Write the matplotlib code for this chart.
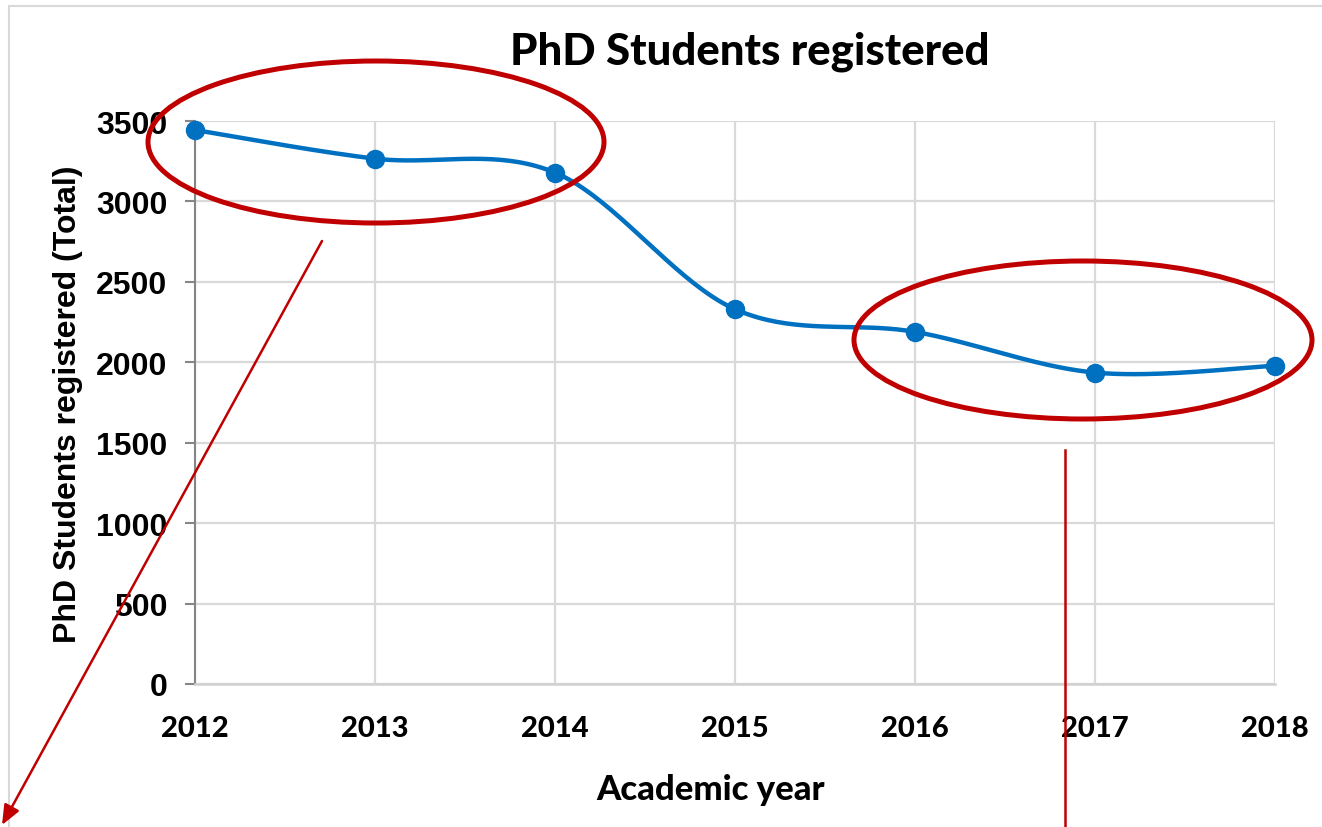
import numpy as np
import matplotlib
matplotlib.use("Agg")
import matplotlib.pyplot as plt
from matplotlib.patches import Ellipse, Rectangle, FancyArrowPatch

years = [2012, 2013, 2014, 2015, 2016, 2017, 2018]
students = [3444, 3266, 3179, 2330, 2189, 1936, 1978]
yticks = [0, 500, 1000, 1500, 2000, 2500, 3000, 3500]
title = "PhD Students registered"
xlabel = "Academic year"
ylabel = "PhD Students registered (Total)"

W, H = 1322, 828
fig = plt.figure(figsize=(W / 100, H / 100), dpi=100)

def px(x, y):
    return (x / W, 1 - y / H)

# outer chart border
fig.patches.append(Rectangle(px(9, 900), (W + 20) / W, (900 - 7) / H, transform=fig.transFigure,
                             fill=False, edgecolor="#D9D9D9", linewidth=1.5, zorder=0))

ax = fig.add_axes([195 / W, 1 - 685 / H, (1275 - 195) / W, (685 - 122) / H])

# smooth (Catmull-Rom) curve through data
x = np.array(years, dtype=float)
y = np.array(students, dtype=float)
xs_all, ys_all = [], []
n = len(x)
t = np.linspace(0, 1, 40)
for i in range(n - 1):
    p0 = np.array([x[max(i - 1, 0)], y[max(i - 1, 0)]])
    p1 = np.array([x[i], y[i]])
    p2 = np.array([x[i + 1], y[i + 1]])
    p3 = np.array([x[min(i + 2, n - 1)], y[min(i + 2, n - 1)]])
    c1 = p1 + (p2 - p0) / 6
    c2 = p2 - (p3 - p1) / 6
    pts = ((1 - t) ** 3)[:, None] * p1 + (3 * (1 - t) ** 2 * t)[:, None] * c1 \
        + (3 * (1 - t) * t ** 2)[:, None] * c2 + (t ** 3)[:, None] * p2
    xs_all.append(pts[:, 0]); ys_all.append(pts[:, 1])
ax.plot(np.concatenate(xs_all), np.concatenate(ys_all), color="#0070C0", linewidth=3.2,
        solid_capstyle="round", clip_on=False, zorder=3)
ax.plot(x, y, linestyle="none", marker="o", markersize=13, color="#0070C0",
        clip_on=False, zorder=4)

ax.set_xlim(2012, 2018)
ax.set_ylim(0, 3500)
ax.set_xticks(years)
ax.set_yticks(yticks)
ax.grid(True, color="#D9D9D9", linewidth=1.6)
ax.set_axisbelow(True)
for s in ["top", "right"]:
    ax.spines[s].set_visible(False)
ax.spines["left"].set_color("#868686")
ax.spines["left"].set_linewidth(1.5)
ax.spines["bottom"].set_color("#D0D0D0")
ax.spines["bottom"].set_linewidth(1.8)

ax.tick_params(axis="y", length=7, width=1.5, color="#868686", pad=13)
ax.tick_params(axis="x", length=0, pad=22)
for lab in ax.get_yticklabels():
    lab.set_fontfamily(["Liberation Sans", "DejaVu Sans"])
    lab.set_fontweight("bold")
    lab.set_fontsize(23)
for lab in ax.get_xticklabels():
    lab.set_fontfamily(["Lato", "DejaVu Sans"])
    lab.set_fontweight(900)
    lab.set_fontsize(21)

fig.text(750 / W, 1 - 52 / H, title, ha="center", va="center", fontsize=31.5,
         fontweight=900, family=["Lato", "DejaVu Sans"])
fig.text(711 / W, 1 - 790 / H, xlabel, ha="center", va="center", fontsize=25,
         fontweight=900, family=["Lato", "DejaVu Sans"])
fig.text(68 / W, 1 - 404 / H, ylabel, ha="center", va="center", rotation=90, fontsize=23,
         fontweight="bold", family=["Liberation Sans", "DejaVu Sans"])

red = "#C00000"
for cx, cy, ew, eh in [(376, 143, 456, 162), (1083, 341, 458, 158)]:
    fig.patches.append(Ellipse(px(cx, cy), ew / W, eh / H, transform=fig.transFigure,
                               fill=False, edgecolor=red, linewidth=3.6, zorder=5))

fig.patches.append(FancyArrowPatch(px(322, 242), px(2, 826), transform=fig.transFigure,
                                   arrowstyle="-|>,head_length=12,head_width=5", color=red,
                                   linewidth=1.8, shrinkA=0, shrinkB=0, zorder=5))
fig.lines.append(plt.Line2D([1065 / W, 1065 / W], [1 - 451 / H, 1 - 830 / H],
                            transform=fig.transFigure, color=red, linewidth=1.8, zorder=5))

fig.savefig("out.png", dpi=100)
